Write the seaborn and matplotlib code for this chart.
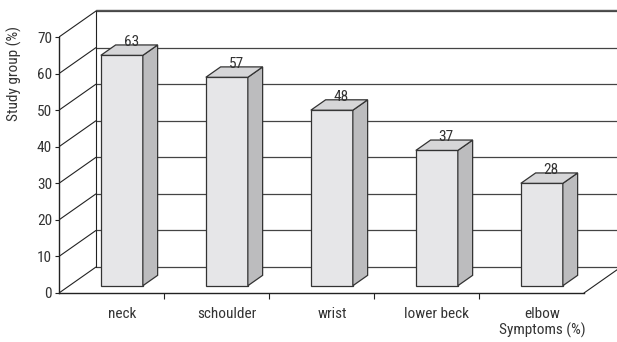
import matplotlib
matplotlib.use('Agg')
import matplotlib.pyplot as plt
from matplotlib import font_manager
from matplotlib.patches import Polygon
import seaborn as sns
import pandas as pd

# symptom prevalence in the study group
symptoms = ['neck', 'schoulder', 'wrist', 'lower beck', 'elbow']
values = [63, 57, 48, 37, 28]
yticks = [0, 10, 20, 30, 40, 50, 60, 70]

df = pd.DataFrame({'Symptom': symptoms, 'Value': values})

sns.set_style('white')
installed = {f.name for f in font_manager.fontManager.ttflist}
narrow = [n for n in ['Liberation Sans Narrow', 'DejaVu Sans Condensed', 'Roboto Condensed',
                      'Open Sans Condensed'] if n in installed]
plt.rcParams['font.family'] = narrow + ['DejaVu Sans']

# fake 3D: back wall offset in data units
DX, DY = 0.352, 7.1
FRONT, DEPTH = 0.28, 0.40
FACE, SIDE, TOP, EDGE = '#e6e6e8', '#bcbcbe', '#d6d6d8', '#333333'
TXT = '#333333'
FS = 11

fig = plt.figure(figsize=(6.17, 3.42), dpi=100)
ax = fig.add_axes([59 / 617, 49 / 342, 558 / 617, 283 / 342])

sns.barplot(x='Symptom', y='Value', data=df, color=FACE, edgecolor=EDGE,
            linewidth=0.9, width=0.4, saturation=1, ax=ax, zorder=5)

xmax = -0.5 + 558 / 105
ax.set_xlim(-0.5, xmax)
ax.set_ylim(0, 283 / 3.657)

# back wall, left wall and floor lines
for k in yticks:
    ax.plot([-0.5 + DX, xmax], [k + DY, k + DY], color='#444444', lw=0.9, zorder=1, clip_on=False)
    ax.plot([-0.5, -0.5 + DX], [k, k + DY], color='#222222', lw=0.8, zorder=1)
ax.plot([-0.5 + DX, -0.5 + DX], [DY, 70 + DY + 0.3], color='#222222', lw=0.8, zorder=1)
ax.plot([-0.5 + DX, xmax], [70 + DY + 0.3, 70 + DY + 0.3], color='#555555', lw=1.0, zorder=1, clip_on=False)
ax.plot([4.5, 4.5 + DX], [0, DY], color='#222222', lw=0.8, zorder=1)

# shift front faces into depth, add side and top faces
ox, oy = FRONT * DX, FRONT * DY
dx, dy = DEPTH * DX, DEPTH * DY
for p, v in zip(ax.patches, values):
    p.set_x(p.get_x() + ox)
    p.set_y(oy)
    x0 = p.get_x()
    x1 = x0 + p.get_width()
    top = oy + p.get_height()
    side = Polygon([(x1, oy), (x1 + dx, oy + dy), (x1 + dx, top + dy), (x1, top)],
                   closed=True, facecolor=SIDE, edgecolor=EDGE, lw=0.9, zorder=6)
    lid = Polygon([(x0, top), (x1, top), (x1 + dx, top + dy), (x0 + dx, top + dy)],
                  closed=True, facecolor=TOP, edgecolor=EDGE, lw=0.9, zorder=6)
    ax.add_patch(side)
    ax.add_patch(lid)
    ax.text((x0 + x1) / 2 + 0.09, top + 3.7, f'{v}', ha='center', va='center',
            fontsize=FS, color=TXT, zorder=7)

# axes
for s in ['top', 'right']:
    ax.spines[s].set_visible(False)
ax.spines['left'].set_bounds(0, 70)
ax.spines['bottom'].set_bounds(-0.5, 4.5)
ax.spines['left'].set_color('#222222')
ax.spines['bottom'].set_color('#222222')
ax.spines['left'].set_linewidth(1.0)
ax.spines['bottom'].set_linewidth(1.0)

ax.set_yticks(yticks)
ax.tick_params(axis='y', length=3, width=0.8, direction='out', color='#222222',
               labelsize=FS, labelcolor=TXT, pad=2, left=True)
ax.set_xticks([i + 0.1 for i in range(len(symptoms))])
ax.set_xticklabels(symptoms)
ax.set_xticks([0.5, 1.5, 2.5, 3.5], minor=True)
ax.tick_params(axis='x', which='major', length=0, labelsize=FS, labelcolor=TXT, pad=10)
ax.tick_params(axis='x', which='minor', length=4, width=0.8, direction='out',
               color='#222222', bottom=True)

ax.set_ylabel('Study group (%)', fontsize=FS, color=TXT)
ax.yaxis.set_label_coords(-0.066, 0.774)
ax.set_xlabel('Symptoms (%)', fontsize=FS, color=TXT)
ax.xaxis.set_label_coords(0.867, -0.104)

fig.savefig('out.png', dpi=100)
